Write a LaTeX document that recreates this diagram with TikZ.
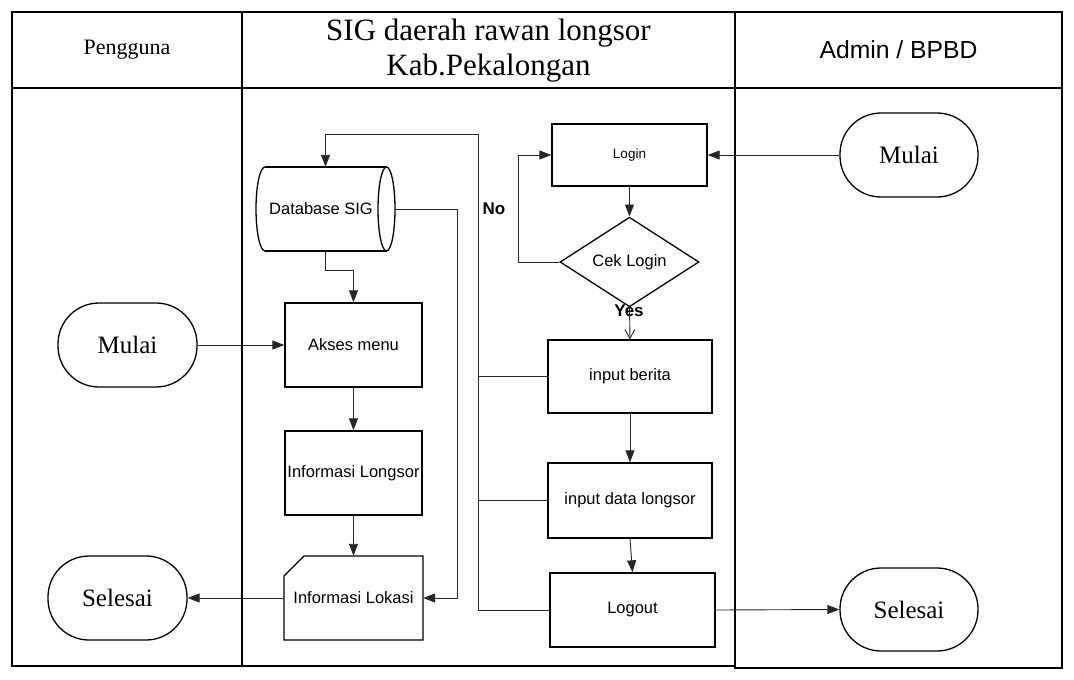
\documentclass[tikz,border=0pt]{standalone}
\usepackage{fontspec}
\setmainfont{Liberation Serif}
\newfontfamily\sansf{Liberation Sans}
\usetikzlibrary{arrows.meta,shapes.geometric}
\tikzset{
  frame/.style={line width=1.5pt, draw=black},
  boxline/.style={line width=1.3pt, draw=black},
  procbox/.style={rectangle, boxline, inner sep=0pt, font=\sansf\fontsize{16.5}{19}\selectfont},
  termbox/.style={rectangle, boxline, rounded corners=41pt, inner sep=0pt, minimum width=138pt, minimum height=84pt, font=\fontsize{25}{29}\selectfont},
  ghost/.style={rectangle, inner sep=0pt, font=\sansf\fontsize{16.5}{19}\selectfont},
  conn/.style={line width=0.9pt, draw=black!85, -{Triangle[length=12pt,width=9pt]}},
  plain/.style={line width=0.9pt, draw=black!85},
  lbl/.style={font=\sansf\bfseries\fontsize{17}{20}\selectfont, inner sep=0pt}
}
\begin{document}
\begin{tikzpicture}[x=1pt,y=-1pt]
\useasboundingbox (0,0) rectangle (1074,680);
% frames
\draw[frame] (12,12) rectangle (735,666);
\draw[frame] (12,88) -- (735,88);
\draw[frame] (242,12) -- (242,666);
\draw[frame] (735,12) rectangle (1062,668);
\draw[frame] (735,88) -- (1062,88);
% headers
\node[font=\fontsize{22}{26}\selectfont] (hPeng) at (127,50) {Pengguna};
\node[font=\fontsize{31}{35}\selectfont, align=center] (hSig) at (488.5,51) {SIG daerah rawan longsor\\Kab.Pekalongan};
\node[font=\sansf\fontsize{24.7}{28}\selectfont] (hAdm) at (898.5,50) {Admin / BPBD};
% left lane
\node[termbox, minimum width=139pt] (mulaiL) at (127.5,345) {Mulai};
\node[termbox, minimum width=139pt] (selesaiL) at (117.5,598) {Selesai};
% middle lane, left column
\node[ghost, minimum width=139pt, minimum height=84pt] (db) at (325.5,209) {};
\draw[boxline] (265,167) -- (386.5,167) (265,251) -- (386.5,251);
\draw[boxline] (265,167) arc[start angle=270, end angle=90, x radius=9, y radius=42];
\draw[boxline] (386.5,209) ellipse[x radius=8.5, y radius=42];
\node[ghost] (dbtext) at (321,209) {Database SIG};
\node[procbox, minimum width=137pt, minimum height=84pt] (akses) at (353.5,345) {Akses menu};
\node[procbox, minimum width=137pt, minimum height=84pt] (infoL) at (353.5,473) {Informasi Longsor};
\node[ghost, minimum width=139pt, minimum height=84pt] (infoLok) at (353.5,598) {Informasi Lokasi};
\draw[boxline] (304,556) -- (423,556) -- (423,640) -- (284,640) -- (284,576) -- cycle;
% middle lane, right column
\node[procbox, minimum width=155pt, minimum height=62pt, font=\sansf\fontsize{13.5}{16}\selectfont] (login) at (629.5,155) {Login};
\node[diamond, boxline, inner sep=0pt, minimum width=139pt, minimum height=81pt, font=\sansf\fontsize{16.5}{19}\selectfont] (cek) at (629.5,262) {Cek Login};
\node[procbox, minimum width=164pt, minimum height=73pt] (berita) at (630,376.5) {input berita};
\node[procbox, minimum width=164pt, minimum height=75pt] (datal) at (630,500.5) {input data longsor};
\node[procbox, minimum width=165pt, minimum height=74pt] (logout) at (632.5,610) {Logout};
% right lane
\node[termbox] (mulaiR) at (909,155) {Mulai};
\node[termbox, minimum height=83pt] (selesaiR) at (909,609.5) {Selesai};
% labels
\node[lbl] (no) at (494,209) {No};
\node[lbl] (yes) at (629,311) {Yes};
% connectors
\draw[conn] (mulaiL.east) -- (akses.west);
\draw[conn] (akses.south) -- (infoL.north);
\draw[conn] (infoL.south) -- (infoLok.north);
\draw[conn] (infoLok.west) -- (selesaiL.east);
\draw[conn] (db.south) |- ([yshift=32pt]akses.north) -- (akses.north);
\draw[conn] (db.east) -- ++(62,0) |- (infoLok.east);
\draw[conn] (mulaiR.west) -- (login.east);
\draw[conn] (login.south) -- (cek.north);
\draw[conn] (cek.west) -- ++(-41,0) |- (login.west);
\draw[line width=0.9pt, draw=black!85, -{Straight Barb[length=9pt,width=10pt]}] (cek.south) -- (berita.north);
\draw[conn] (berita.south) -- (datal.north);
\draw[conn] (datal.south) -- (logout.north);
\draw[conn] (logout.east) -- (selesaiR.west);
\coordinate (busB) at (478,376.5);
\coordinate (busD) at (478,500.5);
\coordinate (busL) at (478,610);
\coordinate (busT) at (478,134);
\draw[plain] (berita.west) -- (busB);
\draw[plain] (datal.west) -- (busD);
\draw[conn] (logout.west) -- (busL) -- (busT) -| (db.north);
\end{tikzpicture}
\end{document}
